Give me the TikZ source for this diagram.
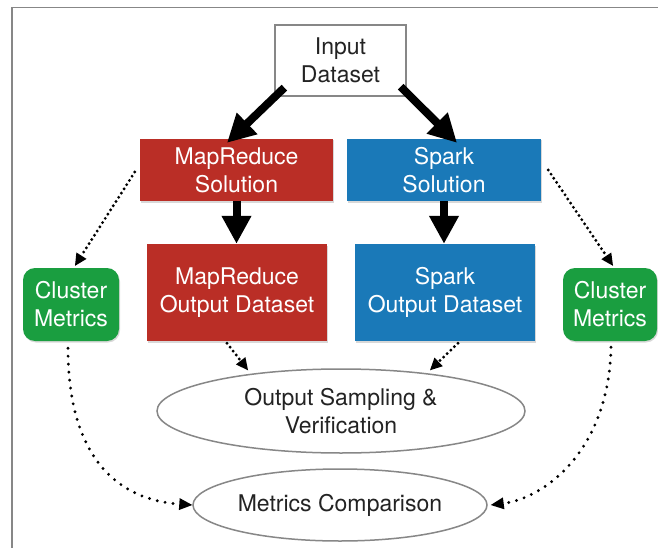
\documentclass[tikz,border=0pt]{standalone}
\usepackage{fontspec}
\setmainfont{TeX Gyre Heros}
\usetikzlibrary{arrows.meta,shapes.geometric,shadows}
\definecolor{mrred}{RGB}{186,46,38}
\definecolor{spblue}{RGB}{26,121,184}
\definecolor{cmgreen}{RGB}{26,158,64}
\definecolor{edgegray}{RGB}{135,135,135}
\definecolor{txtgray}{RGB}{35,35,35}
\begin{document}
\begin{tikzpicture}[x=1pt,y=-1pt,
  txt/.style={font=\fontsize{23}{28}\selectfont, align=center, inner sep=0pt},
  solidbox/.style={txt, rectangle, text=white, drop shadow={shadow xshift=1pt, shadow yshift=-1.5pt, opacity=0.3}},
  mrbox/.style={solidbox, fill=mrred},
  spbox/.style={solidbox, fill=spblue},
  cmbox/.style={solidbox, fill=cmgreen, rounded corners=12pt},
  whitebox/.style={txt, rectangle, draw=edgegray, line width=1.3pt, fill=white, text=txtgray},
  oval/.style={txt, ellipse, draw=edgegray, line width=1.5pt, text=txtgray},
  thick arrow/.style={line width=8pt, -{Triangle[length=28pt,width=28pt]}},
  dotarrow/.style={line width=3.2pt, line cap=round, dash pattern=on 0pt off 5pt, -{Triangle[length=12pt,width=12pt,line width=0pt]}},
  curvarrow/.style={line width=3.2pt, line cap=round, dash pattern=on 0pt off 8pt, -{Triangle[length=13pt,width=12pt,line width=0pt]}}
]
\useasboundingbox (0,0) rectangle (658,548);
\fill[white] (0,0) rectangle (658,548);
\draw[edgegray, line width=1.5pt] (12,548) -- (12,7.5) -- (658,7.5);

\node[whitebox, minimum width=131pt, minimum height=71pt] (in) at (340.5,60.5) {Input\\Dataset};
\node[mrbox, minimum width=193pt, minimum height=62pt] (mrs) at (236.5,170) {MapReduce\\Solution};
\node[spbox, minimum width=194pt, minimum height=62pt] (sps) at (444,170) {Spark\\Solution};
\node[mrbox, minimum width=180pt, minimum height=97pt] (mro) at (237,292.5) {MapReduce\\Output Dataset};
\node[spbox, minimum width=180pt, minimum height=97pt] (spo) at (445,292.5) {Spark\\Output Dataset};
\node[cmbox, minimum width=96pt, minimum height=73pt] (cml) at (71,304.5) {Cluster\\Metrics};
\node[cmbox, minimum width=94pt, minimum height=73pt] (cmr) at (610,304.5) {Cluster\\Metrics};
\node[oval, minimum width=368pt, minimum height=84pt] (osv) at (341,411) {Output Sampling \&\\Verification};
\node[oval, minimum width=294pt, minimum height=72pt] (mc) at (340,505) {Metrics Comparison};

\draw[thick arrow] ([shift={(10,-9)}]in.south west) -- ([shift={(-9.5,4)}]mrs.north);
\draw[thick arrow] ([shift={(-6,-10)}]in.south east) -- ([shift={(13,4)}]sps.north);
\draw[thick arrow] (mrs.south) -- (mrs.south |- mro.north);
\draw[thick arrow] (sps.south) -- (sps.south |- spo.north);

\draw[dotarrow] ([shift={(-5,2)}]mrs.west) -- ([shift={(4,-2)}]cml.north);
\draw[dotarrow] ([shift={(7,0)}]sps.east) -- ([shift={(3,-2)}]cmr.north);
\draw[dotarrow] ([shift={(-10,2)}]mro.south) -- ([shift={(-93,2)}]osv.north);
\draw[dotarrow] ([shift={(13,2)}]spo.south) -- ([shift={(89,2)}]osv.north);

\draw[curvarrow] ([shift={(-3,7)}]cml.south) .. controls (68,460) and (120,500) .. (mc.west);
\draw[curvarrow] ([shift={(1,6)}]cmr.south) .. controls (609,450) and (545,498) .. ([shift={(3,0)}]mc.east);
\end{tikzpicture}
\end{document}
